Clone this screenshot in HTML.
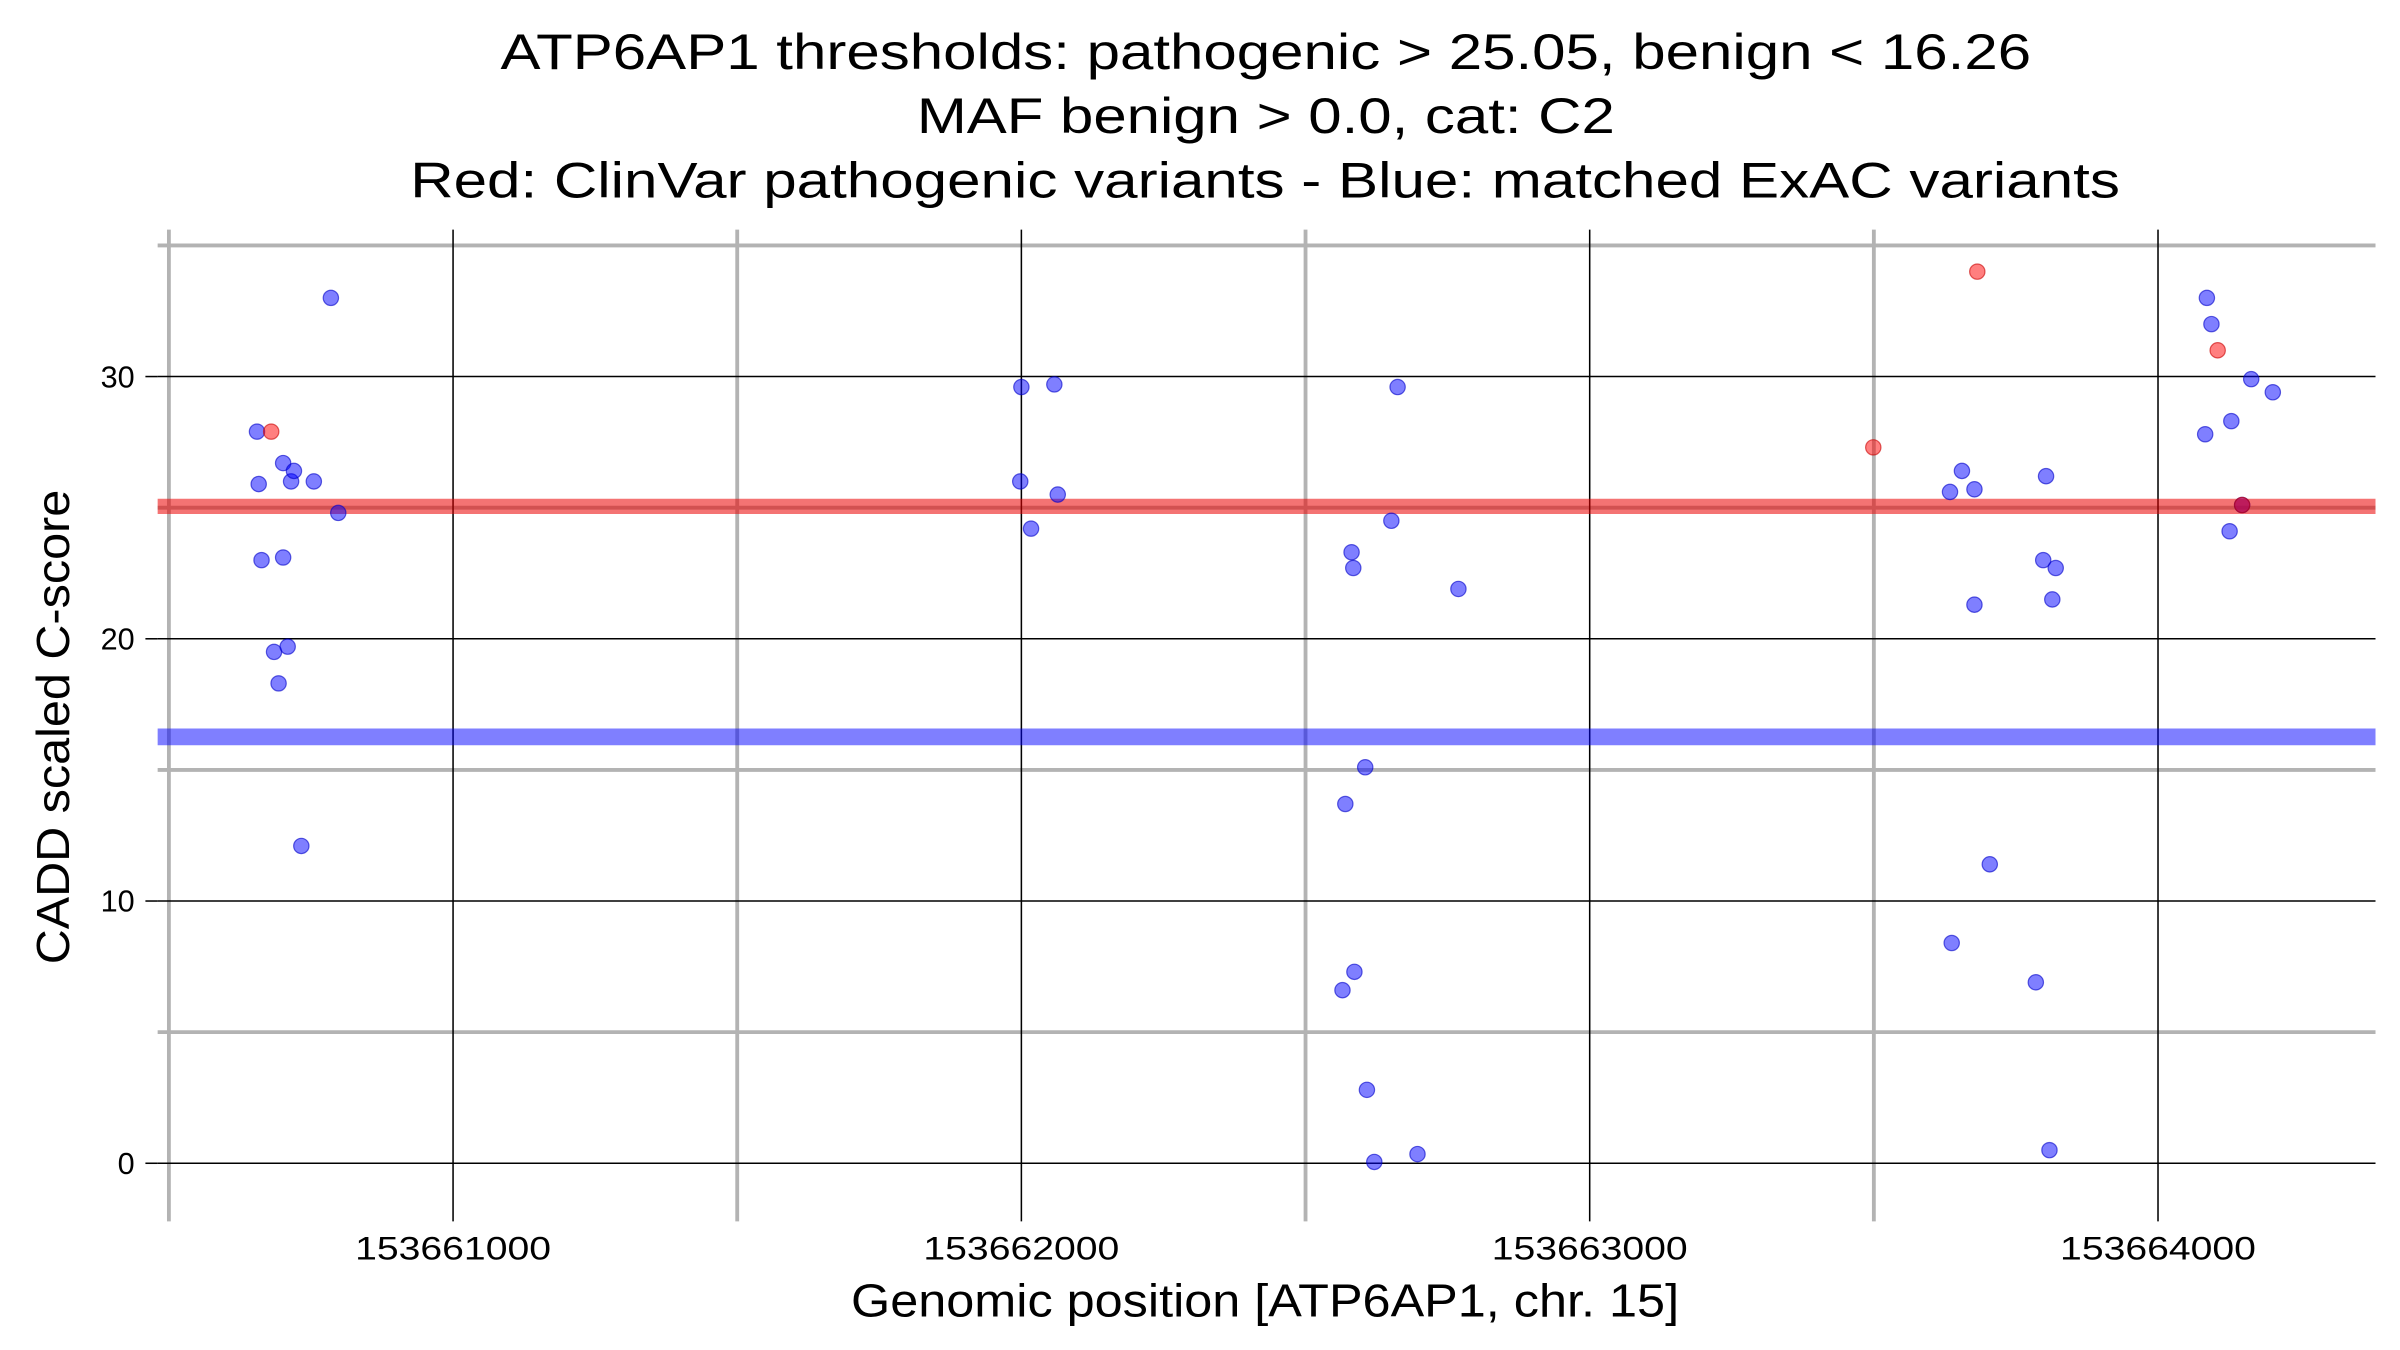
<!DOCTYPE html>
<html><head><meta charset="utf-8"><style>
html,body{margin:0;padding:0;background:#fff;}
svg{display:block;font-family:"Liberation Sans",sans-serif;}
</style></head><body>
<svg id="chart" width="2400" height="1350" viewBox="0 0 1568 882" preserveAspectRatio="none" xmlns="http://www.w3.org/2000/svg">
<g font-size="33" fill="#000">
<text x="327" y="45" textLength="1000" lengthAdjust="spacingAndGlyphs">ATP6AP1 thresholds: pathogenic &gt; 25.05, benign &lt; 16.26</text>
<text x="599" y="87" textLength="456" lengthAdjust="spacingAndGlyphs">MAF benign &gt; 0.0, cat: C2</text>
<text x="268" y="129" textLength="1117" lengthAdjust="spacingAndGlyphs">Red: ClinVar pathogenic variants - Blue: matched ExAC variants</text>
</g>
<g id="grid"></g>
<g id="thresholds"></g>
<g id="points"></g>
<g id="axes"></g>
<text x="556" y="860" font-size="30" textLength="541" lengthAdjust="spacingAndGlyphs">Genomic position [ATP6AP1, chr. 15]</text>
<text transform="translate(45,630) rotate(-90)" font-size="30" textLength="310" lengthAdjust="spacingAndGlyphs">CADD scaled C-score</text>
</svg>
<script>
const xMajorTicks=[153661000,153662000,153663000,153664000];
const xMinorTicks=[153660500,153661500,153662500,153663500];
const yMajorTicks=[0,10,20,30];
const yMinorTicks=[5,15,25,35];
const pathogenicThreshold=25.05;
const benignThreshold=16.26;
const blueX=[153660655,153660658,153660663,153660685,153660693,153660701,153660701,153660709,153660715,153660720,153660733,153660755,153660785,153660798,
153662000,153661998,153662017,153662058,153662064,
153662662,153662651,153662581,153662584,153662769,153662605,153662570,153662586,153662565,153662608,153662621,153662697,
153663655,153663634,153663677,153663677,153663704,153663637,153663803,153663798,153663820,153663814,153663785,153663809,
153664086,153664094,153664083,153664129,153664164,153664202,153664126,153664148];
const blueY=[27.9,25.9,23.0,19.5,18.3,23.1,26.7,19.7,26.0,26.4,12.1,26.0,33.0,24.8,
29.6,26.0,24.2,29.7,25.5,
29.6,24.5,23.3,22.7,21.9,15.1,13.7,7.3,6.6,2.8,0.05,0.35,
26.4,25.6,25.7,21.3,11.4,8.4,26.2,23.0,22.7,21.5,6.9,0.5,
33.0,32.0,27.8,28.3,29.9,29.4,24.1,25.1];
const redX=[153660680,153663682,153664105,153663499,153664148];
const redY=[27.9,34.0,31.0,27.3,25.1];

const NS="http://www.w3.org/2000/svg";
const X0=103,X1=1552,Y0=150,Y1=790;
function xs(v){return 296+(v-153661000)*0.3713;}
function ys(v){return 760-v*17.133;}
function mk(tag,attrs,parent){const e=document.createElementNS(NS,tag);for(const k in attrs)e.setAttribute(k,attrs[k]);parent.appendChild(e);return e;}
const grid=document.getElementById('grid'),axes=document.getElementById('axes'),pts=document.getElementById('points'),th=document.getElementById('thresholds');
yMinorTicks.forEach(v=>{const l=mk('line',{x1:X0,x2:X1,y1:ys(v),y2:ys(v),stroke:'#b3b3b3','stroke-width':2.5},grid);

});
xMinorTicks.forEach(v=>{const l=mk('line',{x1:xs(v),x2:xs(v),y1:Y0,y2:798,stroke:'#b3b3b3','stroke-width':2.5},grid);

});
yMajorTicks.forEach(v=>{const l=mk('line',{x1:X0,x2:X1,y1:ys(v),y2:ys(v),stroke:'#000','stroke-width':1},grid);


const t=mk('line',{x1:95,x2:X0,y1:ys(v),y2:ys(v),stroke:'#000','stroke-width':1},axes);


const tx=mk('text',{x:88,y:ys(v)+7,'font-size':20,'text-anchor':'end'},axes);tx.textContent=v;

});
xMajorTicks.forEach(v=>{const l=mk('line',{x1:xs(v),x2:xs(v),y1:Y0,y2:798,stroke:'#000','stroke-width':1},grid);


const tx=mk('text',{x:xs(v)-64,y:823,'font-size':21,textLength:128,lengthAdjust:'spacingAndGlyphs'},axes);tx.textContent=v;

});
const rl=mk('line',{x1:X0,x2:X1,y1:ys(pathogenicThreshold),y2:ys(pathogenicThreshold),stroke:'rgba(235,0,0,0.55)','stroke-width':10},th);


const bl=mk('line',{x1:X0,x2:X1,y1:ys(benignThreshold),y2:ys(benignThreshold),stroke:'rgba(0,0,255,0.5)','stroke-width':11},th);


blueX.forEach((v,i)=>{const c=mk('circle',{cx:xs(v),cy:ys(blueY[i]),r:5,fill:'rgba(0,0,255,0.5)',stroke:'rgba(0,0,200,0.6)','stroke-width':0.8},pts);

});
redX.forEach((v,i)=>{const c=mk('circle',{cx:xs(v),cy:ys(redY[i]),r:5,fill:'rgba(255,0,0,0.5)',stroke:'rgba(200,0,0,0.6)','stroke-width':0.8},pts);

});
</script>
</body></html>
